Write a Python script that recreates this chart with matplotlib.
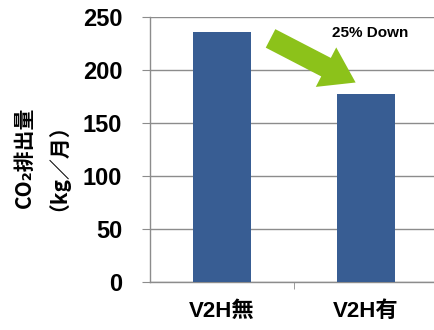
import matplotlib
matplotlib.use("Agg")
import matplotlib.pyplot as plt
from matplotlib.patches import FancyArrowPatch

# data
categories = ["V2H無", "V2H有"]
values = [236, 177]
yticks = [0, 50, 100, 150, 200, 250]
note = "25% Down"

bar_color = "#385d93"
grid_color = "#8c8c8c"
num_font = ["Liberation Sans", "Noto Sans CJK JP", "DejaVu Sans"]
cjk_font = ["Noto Sans CJK JP", "DejaVu Sans"]

fig = plt.figure(figsize=(4.34, 3.30), dpi=100)
ax = fig.add_axes([150 / 434, 48 / 330, 284 / 434, 265 / 330])

x = range(len(categories))
ax.bar(x, values, width=0.4, color=bar_color, zorder=3)

ax.set_ylim(0, 250)
ax.set_xlim(-0.5, -0.5 + 284 / 144)
ax.set_yticks(yticks)
ax.set_yticklabels([str(v) for v in yticks], family=num_font,
                   fontweight="bold", fontsize=17)
ax.yaxis.grid(True, color=grid_color, linewidth=1.0, zorder=0)

ax.set_xticks(list(x))
ax.set_xticklabels(categories, family=num_font, fontweight="bold", fontsize=16)
ax.set_xticks([0.5], minor=True)
ax.tick_params(axis="x", which="major", length=0, pad=14)
ax.tick_params(axis="x", which="minor", length=5, color=grid_color, direction="out")
ax.tick_params(axis="y", length=6, color=grid_color, pad=14)

for s in ["top", "right"]:
    ax.spines[s].set_visible(False)
for s in ["left", "bottom"]:
    ax.spines[s].set_color(grid_color)
    ax.spines[s].set_linewidth(1.0)

# green arrow
arrow = FancyArrowPatch((0.32, 231), (0.945, 187),
                        arrowstyle="simple,tail_width=1.5,head_width=3.2,head_length=2.4",
                        mutation_scale=10, color="#8cc21a", lw=0, zorder=4)
ax.add_patch(arrow)

ax.text(1.03, 235, note, family=num_font, fontweight="bold", fontsize=11,
        ha="center", va="center")

fig.text(36 / 434, 1 - 157 / 330, "CO₂排出量\n（kg／月）", rotation=90,
         family=cjk_font, fontweight="bold", fontsize=15, ha="center",
         va="center", multialignment="center", linespacing=1.05)

fig.savefig("out.png", dpi=100)
